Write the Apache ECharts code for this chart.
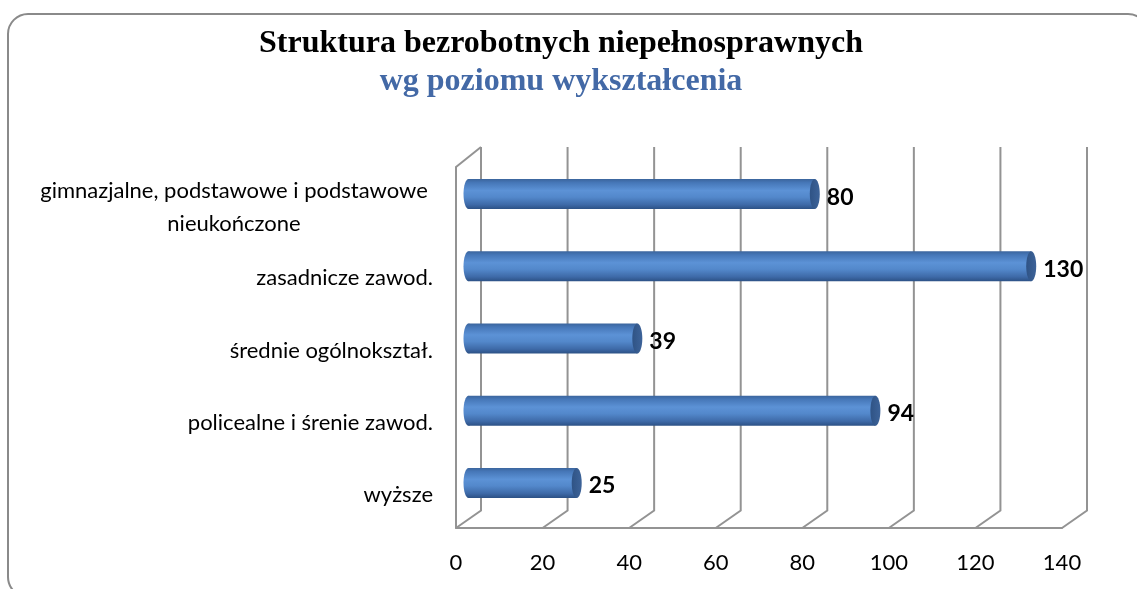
<!DOCTYPE html>
<html>
<head>
<meta charset="utf-8">
<script src="https://cdn.jsdelivr.net/npm/echarts@6/dist/echarts.min.js"></script>
<style>
html,body{margin:0;padding:0;background:#fff;}
#chart{width:1137px;height:589px;}
</style>
</head>
<body>
<div id="chart"></div>
<script>
var TITLE = 'Struktura bezrobotnych niepełnosprawnych';
var SUBTITLE = 'wg poziomu wykształcenia';
var categories = [
  'gimnazjalne, podstawowe i podstawowe\nnieukończone',
  'zasadnicze zawod.',
  'średnie ogólnokształ.',
  'policealne i śrenie zawod.',
  'wyższe'
];
var values = [80, 130, 39, 94, 25];
var tickValues = [0, 20, 40, 60, 80, 100, 120, 140];

var DX = 25, DY_TOP = -20, DY_BOT = -17.5;
var GRID_COLOR = '#939393';

var chart = echarts.init(document.getElementById('chart'));

var barGrad = new echarts.graphic.LinearGradient(0, 0, 0, 1, [
  {offset: 0, color: '#3b659d'},
  {offset: 0.12, color: '#4677b8'},
  {offset: 0.38, color: '#5c92d6'},
  {offset: 0.6, color: '#5388cb'},
  {offset: 0.85, color: '#3e6aa8'},
  {offset: 1, color: '#2c5185'}
]);
var capGrad = new echarts.graphic.LinearGradient(0, 0, 1, 0, [
  {offset: 0, color: '#2f5385'},
  {offset: 1, color: '#3d6399'}
]);

var option = {
  backgroundColor: '#fff',
  animation: false,
  title: {
    text: TITLE,
    subtext: SUBTITLE,
    left: 561,
    textAlign: 'center',
    top: 26,
    padding: 0,
    itemGap: 2,
    textStyle: {fontFamily: 'Liberation Serif', fontWeight: 'bold', fontSize: 32, lineHeight: 36, color: '#000'},
    subtextStyle: {fontFamily: 'Liberation Serif', fontWeight: 'bold', fontSize: 32, lineHeight: 36, color: '#4369a6'}
  },
  graphic: [{
    type: 'rect',
    shape: {x: 8, y: 14, width: 1140, height: 583, r: 20},
    style: {fill: 'none', stroke: '#8a8a8a', lineWidth: 2},
    silent: true,
    z: -10
  }],
  grid: {left: 456, right: 75, top: 167, bottom: 61},
  xAxis: {
    type: 'value',
    min: 0, max: 140, interval: 20,
    axisLine: {show: true, lineStyle: {color: GRID_COLOR, width: 2}},
    axisTick: {show: false},
    splitLine: {show: false},
    axisLabel: {fontFamily: 'Lato', fontSize: 22, color: '#000', margin: 24}
  },
  yAxis: {
    type: 'category',
    inverse: true,
    data: categories,
    axisLine: {show: true, lineStyle: {color: GRID_COLOR, width: 2}},
    axisTick: {show: false},
    axisLabel: {
      fontFamily: 'Lato', fontSize: 22, color: '#000', margin: 23,
      formatter: function (v) {
        if (v.indexOf('\n') >= 0) {
          return v.split('\n').map(function (s) { return '{c|' + s + '}'; }).join('\n');
        }
        return '{n|' + v + '}';
      },
      rich: {
        c: {fontFamily: 'Lato', fontSize: 22, color: '#000', width: 398, align: 'center', lineHeight: 33, padding: [8, 0, 0, 0]},
        n: {fontFamily: 'Lato', fontSize: 22, color: '#000', padding: [6, 0, 0, 0]}
      }
    }
  },
  series: [
    {
      type: 'custom',
      name: 'grid3d',
      silent: true,
      z: 1,
      data: tickValues.map(function (t) { return [t, 0]; }),
      renderItem: function (params, api) {
        var cs = params.coordSys;
        var x = api.coord([api.value(0), 0])[0];
        var yb = cs.y + cs.height, yt = cs.y;
        var children = [{
          type: 'polyline',
          shape: {points: [[x, yb], [x + DX, yb + DY_BOT], [x + DX, yt + DY_TOP]]},
          style: {stroke: GRID_COLOR, lineWidth: 2, fill: 'none'}
        }];
        if (params.dataIndex === 0) {
          children.push({
            type: 'line',
            shape: {x1: x, y1: yt, x2: x + DX, y2: yt + DY_TOP},
            style: {stroke: GRID_COLOR, lineWidth: 2}
          });
        }
        return {type: 'group', children: children};
      }
    },
    {
      type: 'custom',
      name: 'bars',
      z: 3,
      data: values.map(function (v, i) { return [v, i]; }),
      renderItem: function (params, api) {
        var v = api.value(0), ci = api.value(1);
        var p0 = api.coord([0, ci]), p1 = api.coord([v, ci]);
        var sx = DX / 2, sy = -9;
        var x0 = p0[0] + sx, x1 = p1[0] + sx, cy = p0[1] + sy;
        var h = 30, rx = 5;
        return {
          type: 'group',
          children: [
            {type: 'ellipse', shape: {cx: x0, cy: cy, rx: rx, ry: h / 2}, style: {fill: barGrad}},
            {type: 'rect', shape: {x: x0, y: cy - h / 2, width: x1 - x0, height: h}, style: {fill: barGrad}},
            {type: 'ellipse', shape: {cx: x1, cy: cy, rx: rx, ry: h / 2}, style: {fill: capGrad}},
            {type: 'text', style: {
              text: String(v), x: x1 + rx + 7, y: cy + 3,
              verticalAlign: 'middle', align: 'left',
              fontFamily: 'Lato', fontWeight: 'bold', fontSize: 23, fill: '#000'
            }}
          ]
        };
      }
    }
  ]
};
chart.setOption(option);
</script>
</body>
</html>
